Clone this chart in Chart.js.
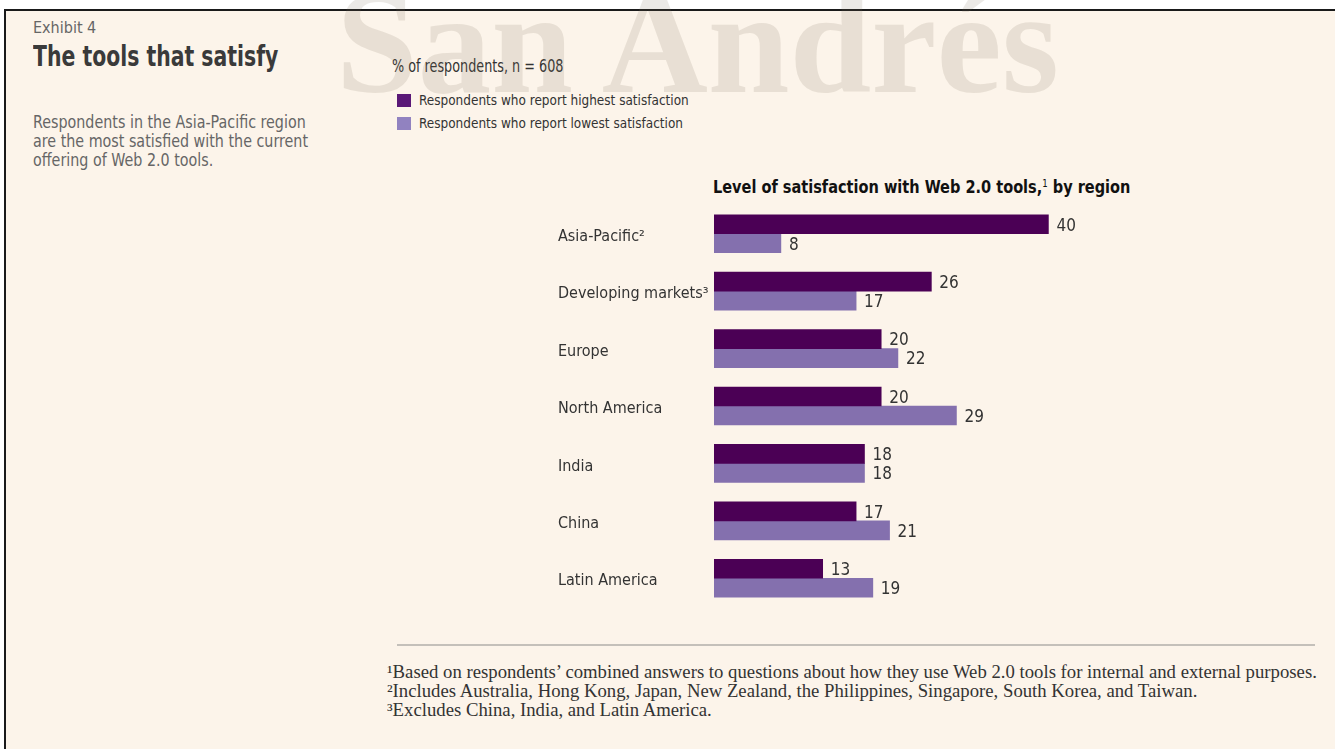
<!DOCTYPE html>
<html>
<head>
<meta charset="utf-8">
<script src="https://cdn.jsdelivr.net/npm/chart.js@4.4.1/dist/chart.umd.min.js"></script>
<style>
  html, body { margin: 0; padding: 0; background: #fff; }
  body { width: 1335px; height: 756px; position: relative; overflow: hidden;
         font-family: "DejaVu Sans Condensed", "DejaVu Sans", sans-serif; }
  #panel { position: absolute; left: 4px; top: 9px; width: 1331px; height: 740px;
           background: #fcf4ea; border-top: 2px solid #1a1a1a; border-left: 2px solid #1a1a1a; box-sizing: border-box; }
  .abs { position: absolute; white-space: nowrap; transform-origin: left top; }
  #exhibit { left: 33px; top: 18px; font-size: 16px; color: #666; }
  #title { left: 33px; top: 40px; font-size: 28px; font-weight: bold; color: #3a3a3a; transform: scaleX(0.81); }
  #desc { left: 33px; top: 113px; font-size: 17px; line-height: 19px; color: #666; transform: scaleX(0.935); }
  #unit { left: 392px; top: 55px; font-size: 18px; color: #333; transform: scaleX(0.79); }
  .legend { left: 397px; font-size: 14px; color: #333; }
  .legend i { display: inline-block; width: 14px; height: 13px; margin-right: 8px; vertical-align: -2px; }
  .legend span { display: inline-block; transform: scaleX(0.96); transform-origin: left; }
  #chartTitle { left: 713px; top: 177px; font-size: 17px; font-weight: bold; color: #111; transform: scaleX(0.95); }
  #chartTitle sup { font-size: 10px; font-weight: normal; vertical-align: 6px; }
  #rule { position: absolute; left: 397px; top: 644px; width: 918px; height: 0; border-top: 2px solid #c4c0ba; }
  #notes { left: 387px; top: 663px; font-family: "Liberation Serif", serif; font-size: 18px; line-height: 19px; color: #333; transform: scaleX(1.04); }
  #watermark { left: 336px; top: -42px; font-family: "Liberation Serif", serif; font-size: 147px; font-weight: bold;
               color: rgba(120, 105, 90, 0.15); pointer-events: none; z-index: 10; transform: none; }
  #chartBox { position: absolute; left: 558px; top: 193px; width: 580px; height: 426px; }
</style>
</head>
<body>
<div id="panel"></div>
<div class="abs" id="exhibit">Exhibit 4</div>
<div class="abs" id="title">The tools that satisfy</div>
<div class="abs" id="desc">Respondents in the Asia-Pacific region<br>are the most satisfied with the current<br>offering of Web 2.0 tools.</div>
<div class="abs" id="unit">% of respondents, n = 608</div>
<div class="abs legend" style="top:92px"><i style="background:#5a1877"></i><span>Respondents who report highest satisfaction</span></div>
<div class="abs legend" style="top:115px"><i style="background:#9182c0"></i><span>Respondents who report lowest satisfaction</span></div>
<div class="abs" id="chartTitle">Level of satisfaction with Web 2.0 tools,<sup>1</sup> by region</div>
<div id="chartBox"><canvas id="satChart"></canvas></div>
<div id="rule"></div>
<div class="abs" id="notes">
  <div>¹Based on respondents’ combined answers to questions about how they use Web 2.0 tools for internal and external purposes.</div>
  <div>²Includes Australia, Hong Kong, Japan, New Zealand, the Philippines, Singapore, South Korea, and Taiwan.</div>
  <div>³Excludes China, India, and Latin America.</div>
</div>
<div class="abs" id="watermark">San Andrés</div>

<script>
// Regions and satisfaction shares (% of respondents)
const regions = ["Asia-Pacific²", "Developing markets³", "Europe", "North America", "India", "China", "Latin America"];
const highest = [40, 26, 20, 20, 18, 17, 13];
const lowest = [8, 17, 22, 29, 18, 21, 19];

const FONT = '"DejaVu Sans Condensed", "DejaVu Sans", sans-serif';

// Value printed to the right of each bar
const valueLabels = {
    id: 'valueLabels',
    afterDatasetsDraw(chart) {
        const ctx = chart.ctx;
        ctx.save();
        ctx.font = '17px ' + FONT;
        ctx.fillStyle = '#333';
        ctx.textBaseline = 'middle';
        ctx.textAlign = 'left';
        chart.data.datasets.forEach((ds, i) => {
            chart.getDatasetMeta(i).data.forEach((bar, j) => {
                ctx.fillText(ds.data[j], bar.x + 8, bar.y + 2);
            });
        });
        ctx.restore();
    }
};

new Chart(document.getElementById("satChart"), {
    type: 'bar',
    data: {
        labels: regions,
        datasets: [
            { label: "Respondents who report highest satisfaction", data: highest, backgroundColor: "#4b0055", barThickness: 19 },
            { label: "Respondents who report lowest satisfaction", data: lowest, backgroundColor: "#8470ae", barThickness: 19 }
        ]
    },
    options: {
        indexAxis: 'y',
        responsive: true,
        maintainAspectRatio: false,
        animation: false,
        layout: { padding: { top: 12, bottom: 12, left: 0, right: 6 } },
        plugins: { legend: { display: false }, tooltip: { enabled: false } },
        scales: {
            x: { display: false, min: 0, max: 50 },
            y: {
                grid: { display: false },
                border: { display: false },
                ticks: { crossAlign: 'far', padding: 0, labelOffset: 3, color: '#333', font: { family: FONT, size: 16 } },
                afterFit: (axis) => { axis.width = 156; }
            }
        }
    },
    plugins: [valueLabels]
});
</script>
</body>
</html>
